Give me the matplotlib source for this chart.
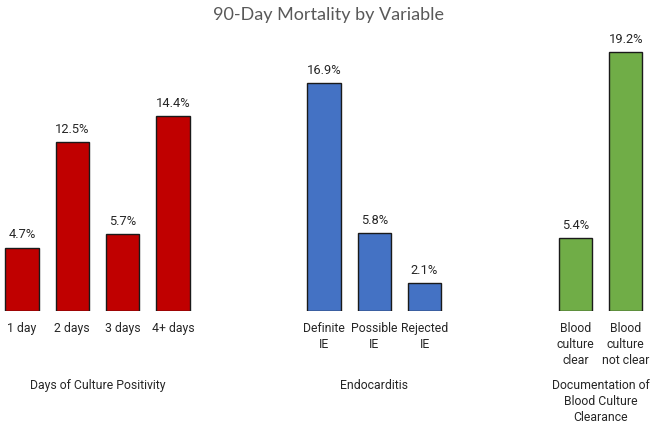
import matplotlib.pyplot as plt

# data
categories = ["1 day", "2 days", "3 days", "4+ days",
              "Definite\nIE", "Possible\nIE", "Rejected\nIE",
              "Blood\nculture\nclear", "Blood\nculture\nnot clear"]
mortality = [4.7, 12.5, 5.7, 14.4, 16.9, 5.8, 2.1, 5.4, 19.2]
positions = [0, 1, 2, 3, 6, 7, 8, 11, 12]
colors = ["#C00000"] * 4 + ["#4472C4"] * 3 + ["#70AD47"] * 2

group_names = ["Days of Culture Positivity", "Endocarditis",
               "Documentation of\nBlood Culture\nClearance"]
group_centers = [1.5, 7, 11.5]

plt.rcParams['font.family'] = ['Roboto', 'DejaVu Sans']

fig = plt.figure(figsize=(6.57, 4.25), dpi=100)
ax = fig.add_axes([0, 0.268, 1, 0.636])

bars = ax.bar(positions, mortality, width=0.66, color=colors,
              edgecolor="#1a1a1a", linewidth=1.0)

for bar, val in zip(bars, mortality):
    ax.text(bar.get_x() + bar.get_width() / 2, val + 0.45, f"{val}%",
            ha='center', va='bottom', fontsize=9.3, color='#262626')

ax.set_xlim(-0.437, 12.62)
ax.set_ylim(0, 20)
ax.set_xticks(positions)
ax.set_xticklabels(categories, fontsize=8.8, color='#262626', linespacing=1.3)
ax.tick_params(axis='x', length=0, pad=8)
ax.set_yticks([])
for s in ax.spines.values():
    s.set_visible(False)

for name, cx in zip(group_names, group_centers):
    ax.text(cx, -5.0, name, ha='center', va='top', fontsize=8.8,
            color='#262626', linespacing=1.3)

fig.text(0.5, 0.965, "90-Day Mortality by Variable", ha='center', va='center',
         fontsize=13, color='#595959', family=['Lato', 'DejaVu Sans'])

fig.savefig("out.png", dpi=100)
